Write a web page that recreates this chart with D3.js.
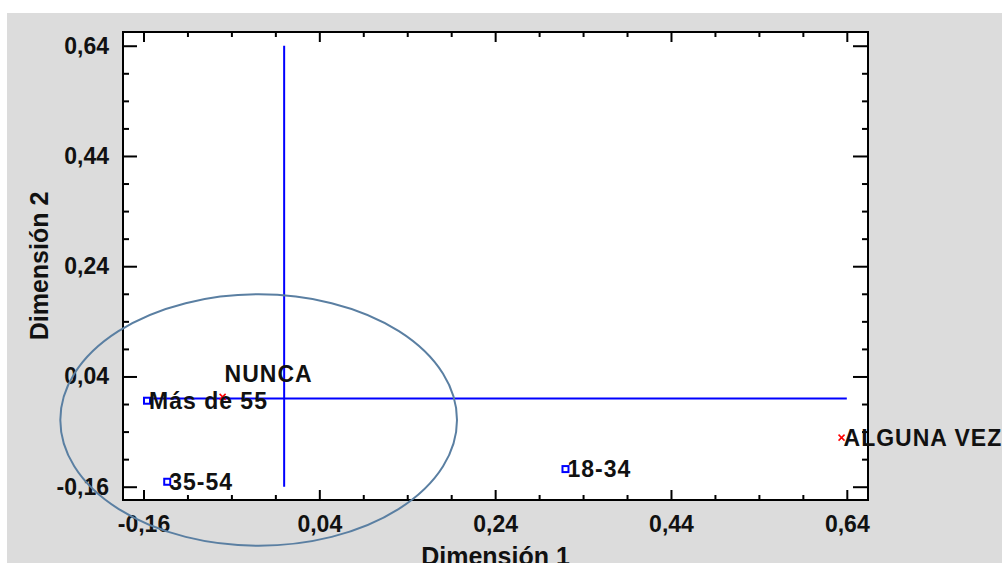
<!DOCTYPE html>
<html>
<head>
<meta charset="utf-8">
<script src="https://cdn.jsdelivr.net/npm/d3@7"></script>
<style>
  body { margin: 0; background: #fff; }
  text { font-family: "Liberation Sans", Arial, sans-serif; font-weight: bold; fill: #111; }
</style>
</head>
<body>
<div id="chart"></div>
<script>
var width = 1002;
var height = 563;

// points of the correspondence map
var labels = ["NUNCA", "ALGUNA VEZ", "18-34", "35-54", "Más de 55"];
var dim1 = [-0.070, 0.634, 0.320, -0.133, -0.156];
var dim2 = [0.003, -0.071, -0.128, -0.151, -0.004];
var kinds = ["col", "col", "row", "row", "row"]; // col = red cross, row = blue square
var labelAbove = ["NUNCA"];

var majorTicks = [-0.16, 0.04, 0.24, 0.44, 0.64];
var minorTicks = [-0.11, -0.06, -0.01, 0.09, 0.14, 0.19, 0.29, 0.34, 0.39, 0.49, 0.54, 0.59];

// ellipse drawn around the left cluster
var ellipseCenter = [-0.029, -0.039];
var ellipseRadii = [0.2256, 0.228];

var plot = { left: 123, right: 868, top: 32, bottom: 500 };

var locale = d3.formatLocale({ decimal: ",", thousands: ".", grouping: [3], currency: ["", ""], minus: "-" });
var fmt = locale.format(".2f");

var xScale = d3.scaleLinear().domain([-0.1833, 0.6641]).range([plot.left, plot.right]);
var yScale = d3.scaleLinear().domain([-0.1841, 0.6649]).range([plot.bottom, plot.top]);

var points = labels.map(function(l, i) {
    return { label: l, x: dim1[i], y: dim2[i], kind: kinds[i] };
});

var svg = d3.select("#chart").append("svg")
    .attr("width", width)
    .attr("height", height);

svg.append("rect")
    .attr("x", 7).attr("y", 13)
    .attr("width", width - 7).attr("height", height - 13)
    .attr("fill", "#dcdcdc");

svg.append("rect")
    .attr("x", plot.left).attr("y", plot.top)
    .attr("width", plot.right - plot.left).attr("height", plot.bottom - plot.top)
    .attr("fill", "#fff");

// zero lines
svg.append("line")
    .attr("x1", xScale(majorTicks[0])).attr("x2", xScale(majorTicks[majorTicks.length - 1]))
    .attr("y1", yScale(0)).attr("y2", yScale(0))
    .attr("stroke", "#0000ff").attr("stroke-width", 2);
svg.append("line")
    .attr("x1", xScale(0)).attr("x2", xScale(0))
    .attr("y1", yScale(majorTicks[majorTicks.length - 1])).attr("y2", yScale(majorTicks[0]))
    .attr("stroke", "#0000ff").attr("stroke-width", 2);

// axes, ticks point inward
function addAxis(axis, tx, ty, values, size, withLabels, pad) {
    var g = svg.append("g")
        .attr("transform", "translate(" + tx + "," + ty + ")")
        .call(axis.tickValues(values).tickSizeInner(-size).tickSizeOuter(0)
            .tickPadding(pad || 3).tickFormat(withLabels ? fmt : ""));
    g.select(".domain").remove();
    g.selectAll(".tick line").attr("stroke", "#000").attr("stroke-width", 2);
    g.selectAll(".tick text").attr("font-size", 23).attr("fill", "#111")
        .attr("font-family", "Liberation Sans, Arial, sans-serif").attr("font-weight", "bold");
    return g;
}

addAxis(d3.axisBottom(xScale), 0, plot.bottom, majorTicks, 10, true, 16);
addAxis(d3.axisBottom(xScale), 0, plot.bottom, minorTicks, 5, false);
addAxis(d3.axisTop(xScale), 0, plot.top, majorTicks, 10, false);
addAxis(d3.axisTop(xScale), 0, plot.top, minorTicks, 5, false);
addAxis(d3.axisLeft(yScale), plot.left, 0, majorTicks, 14, true, 14);
addAxis(d3.axisLeft(yScale), plot.left, 0, minorTicks, 6, false);
addAxis(d3.axisRight(yScale), plot.right, 0, majorTicks, 15, false);
addAxis(d3.axisRight(yScale), plot.right, 0, minorTicks, 6, false);

svg.append("rect")
    .attr("x", plot.left).attr("y", plot.top)
    .attr("width", plot.right - plot.left).attr("height", plot.bottom - plot.top)
    .attr("fill", "none").attr("stroke", "#000").attr("stroke-width", 2);

// markers
var marks = svg.selectAll(".mark")
    .data(points)
    .enter().append("g")
    .attr("class", "mark")
    .attr("transform", d => `translate(${xScale(d.x)}, ${yScale(d.y)})`);

marks.filter(d => d.kind === "row").append("rect")
    .attr("x", -3).attr("y", -3).attr("width", 6).attr("height", 6)
    .attr("fill", "#fff").attr("stroke", "#0000ff").attr("stroke-width", 2);

marks.filter(d => d.kind === "col").append("path")
    .attr("d", "M-3,-3L3,3M-3,3L3,-3")
    .attr("stroke", "#ff0000").attr("stroke-width", 1.5);

marks.append("text")
    .attr("x", 2)
    .attr("y", d => labelAbove.indexOf(d.label) >= 0 ? -21 : 2)
    .attr("dominant-baseline", "middle")
    .attr("font-size", 23)
    .attr("letter-spacing", 1)
    .text(d => d.label);

svg.append("ellipse")
    .attr("cx", xScale(ellipseCenter[0]))
    .attr("cy", yScale(ellipseCenter[1]))
    .attr("rx", xScale(ellipseCenter[0] + ellipseRadii[0]) - xScale(ellipseCenter[0]))
    .attr("ry", yScale(ellipseCenter[1]) - yScale(ellipseCenter[1] + ellipseRadii[1]))
    .attr("fill", "none")
    .attr("stroke", "#5a7fa2")
    .attr("stroke-width", 2);

// axis titles
svg.append("text")
    .attr("x", (plot.left + plot.right) / 2)
    .attr("y", 565)
    .attr("text-anchor", "middle")
    .attr("font-size", 25)
    .text("Dimensión 1");

svg.append("text")
    .attr("transform", "translate(48," + (plot.top + plot.bottom) / 2 + ") rotate(-90)")
    .attr("text-anchor", "middle")
    .attr("font-size", 25)
    .text("Dimensión 2");
</script>
</body>
</html>
